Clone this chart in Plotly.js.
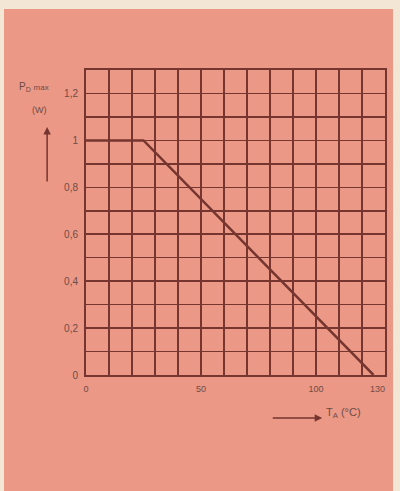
<!DOCTYPE html>
<html>
<head>
<meta charset="utf-8">
<script src="https://cdn.plot.ly/plotly-3.0.1.min.js"></script>
<style>
  html, body { margin:0; padding:0; width:400px; height:491px; background:#f4e6d4; overflow:hidden; }
  #panel { position:absolute; left:4px; top:9px; width:389px; height:482px; background:#eb9886; }
  #chart { position:absolute; left:0; top:0; width:400px; height:491px; }
</style>
</head>
<body>
<div id="panel"></div>
<div id="chart"></div>
<script>
// Data
const temperature = [0, 25, 125];      // T_A (°C)
const powerMax    = [1, 1, 0];         // P_D max (W)

// Tick positions (one grid line each) and their labels ("" = unlabeled grid line)
const xTickVals = [0, 10, 20, 30, 40, 50, 60, 70, 80, 90, 100, 110, 120, 130];
const xTickText = ["0", "", "", "", "", "50", "", "", "", "", "100", "", "", "130\u00a0\u00a0\u00a0\u00a0\u00a0\u00a0"];
const yTickVals = [0, 0.1, 0.2, 0.3, 0.4, 0.5, 0.6, 0.7, 0.8, 0.9, 1, 1.1, 1.2, 1.3];
const yTickText = ["0", "", "0,2", "", "0,4", "", "0,6", "", "0,8", "", "1", "", "1,2", ""];

const brown = "#76362f";
const labelColor = "#6e4c46";

const trace = {
  x: temperature, y: powerMax,
  type: "scatter", mode: "lines",
  line: { color: brown, width: 2.5 },
  hoverinfo: "skip"
};

const layout = {
  width: 400, height: 491,
  margin: { l: 86, r: 15, t: 70, b: 116 },
  paper_bgcolor: "rgba(0,0,0,0)", plot_bgcolor: "rgba(0,0,0,0)",
  showlegend: false,
  font: { family: "Liberation Sans, Arial, sans-serif", size: 9, color: labelColor },
  xaxis: {
    range: [0, 130], fixedrange: true,
    tickmode: "array", tickvals: xTickVals, ticktext: xTickText,
    showgrid: true, gridcolor: brown, gridwidth: 1.6,
    showline: true, mirror: true, linecolor: brown, linewidth: 2,
    zeroline: false, ticks: "", ticklabelstandoff: 4, ticklabeloverflow: "allow",
    tickfont: { size: 9, color: labelColor }
  },
  yaxis: {
    range: [0, 1.3], fixedrange: true,
    tickmode: "array", tickvals: yTickVals, ticktext: yTickText,
    showgrid: true, gridcolor: brown, gridwidth: 1.6,
    showline: true, mirror: true, linecolor: brown, linewidth: 2,
    zeroline: false, ticks: "", ticklabelstandoff: 4, ticklabeloverflow: "allow",
    tickfont: { size: 10, color: labelColor }
  },
  annotations: [
    { xref: "paper", yref: "paper", x: -0.23, y: 0.944, xanchor: "left", yanchor: "middle",
      text: "P<sub>D</sub> <span style='font-size:8px'>max</span>", showarrow: false,
      font: { size: 10, color: labelColor } },
    { xref: "paper", yref: "paper", x: -0.157, y: 0.869, xanchor: "center", yanchor: "middle",
      text: "(W)", showarrow: false, font: { size: 9, color: labelColor } },
    { xref: "paper", yref: "paper", x: -0.13, y: 0.813, text: "", showarrow: true,
      ax: 0, ay: 56, arrowhead: 2, arrowsize: 1, arrowwidth: 1.5, arrowcolor: brown },
    { xref: "paper", yref: "paper", x: 0.79, y: -0.141, text: "", showarrow: true,
      ax: -51, ay: 0, arrowhead: 2, arrowsize: 1, arrowwidth: 1.5, arrowcolor: brown },
    { xref: "paper", yref: "paper", x: 0.795, y: -0.125, xanchor: "left", yanchor: "middle",
      text: "T<sub>A</sub> (°C)", showarrow: false, font: { size: 11, color: labelColor } }
  ]
};

Plotly.newPlot("chart", [trace], layout, { staticPlot: true, displayModeBar: false });
</script>
</body>
</html>
